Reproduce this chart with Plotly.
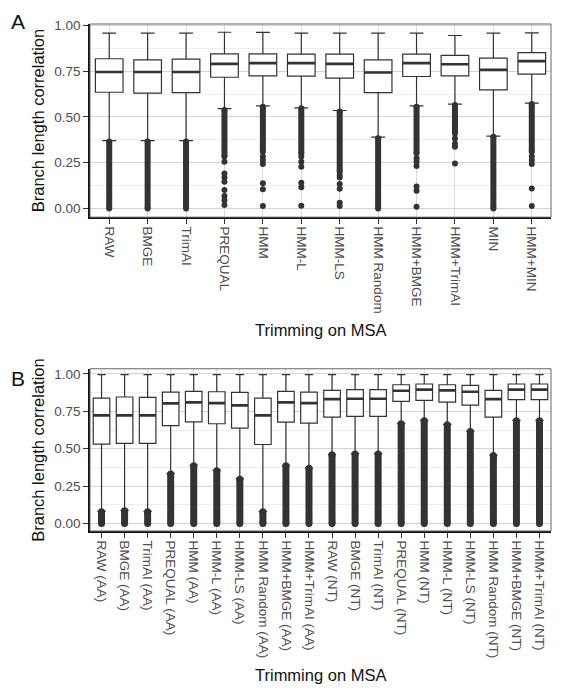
import plotly.graph_objects as go
from plotly.subplots import make_subplots

# panel A - trimming methods on the AA alignments
labels_a = ['RAW', 'BMGE', 'TrimAI', 'PREQUAL', 'HMM', 'HMM-L', 'HMM-LS', 'HMM Random',
            'HMM+BMGE', 'HMM+TrimAI', 'MIN', 'HMM+MIN']
q1_a = [0.635, 0.630, 0.633, 0.717, 0.724, 0.723, 0.712, 0.633, 0.721, 0.724, 0.648, 0.734]
med_a = [0.746, 0.746, 0.746, 0.790, 0.794, 0.794, 0.790, 0.743, 0.794, 0.788, 0.757, 0.805]
q3_a = [0.818, 0.812, 0.816, 0.845, 0.845, 0.843, 0.843, 0.812, 0.843, 0.836, 0.821, 0.852]
upper_a = [0.958, 0.958, 0.958, 0.963, 0.962, 0.958, 0.958, 0.958, 0.958, 0.945, 0.958, 0.960]
lower_a = [0.370, 0.370, 0.370, 0.545, 0.560, 0.550, 0.535, 0.390, 0.560, 0.570, 0.395, 0.575]
# dense runs of outliers (bottom, top)
dense_lo_a = [0.0, 0.0, 0.0, 0.283, 0.310, 0.301, 0.200, 0.0, 0.301, 0.410, 0.0, 0.310]
dense_hi_a = [0.365, 0.365, 0.365, 0.538, 0.556, 0.547, 0.529, 0.383, 0.556, 0.565, 0.392, 0.571]
# single outliers below the dense runs
out_cat_a = (['PREQUAL'] * 8 + ['HMM'] * 6 + ['HMM-L'] * 6 + ['HMM-LS'] * 6
             + ['HMM+BMGE'] * 6 + ['HMM+TrimAI'] * 4 + ['HMM+MIN'] * 5)
out_val_a = [0.255, 0.191, 0.169, 0.145, 0.100, 0.068, 0.045, 0.018,
             0.283, 0.265, 0.243, 0.137, 0.104, 0.013,
             0.283, 0.255, 0.228, 0.140, 0.115, 0.015,
             0.182, 0.169, 0.133, 0.108, 0.031, 0.013,
             0.274, 0.255, 0.232, 0.119, 0.097, 0.009,
             0.382, 0.355, 0.337, 0.246,
             0.285, 0.265, 0.243, 0.109, 0.013]

# panel B - AA vs NT
methods_b = ['RAW', 'BMGE', 'TrimAI', 'PREQUAL', 'HMM', 'HMM-L', 'HMM-LS', 'HMM Random',
             'HMM+BMGE', 'HMM+TrimAI']
labels_b = [m + ' (AA)' for m in methods_b] + [m + ' (NT)' for m in methods_b]
q1_b = [0.530, 0.535, 0.535, 0.655, 0.680, 0.667, 0.638, 0.528, 0.678, 0.671,
        0.711, 0.716, 0.716, 0.817, 0.823, 0.812, 0.792, 0.711, 0.828, 0.828]
med_b = [0.723, 0.723, 0.723, 0.803, 0.810, 0.805, 0.790, 0.723, 0.810, 0.805,
         0.832, 0.834, 0.834, 0.888, 0.895, 0.890, 0.881, 0.832, 0.895, 0.895]
q3_b = [0.839, 0.846, 0.844, 0.879, 0.884, 0.881, 0.877, 0.839, 0.884, 0.879,
        0.890, 0.895, 0.895, 0.928, 0.933, 0.928, 0.924, 0.890, 0.933, 0.933]
upper_b = [0.996, 0.996, 0.996, 0.996, 0.996, 0.996, 0.996, 0.996, 0.996, 0.996,
           0.996, 0.996, 0.996, 0.996, 0.996, 0.996, 0.996, 0.996, 0.996, 0.996]
lower_b = [0.080, 0.087, 0.080, 0.335, 0.390, 0.357, 0.300, 0.080, 0.389, 0.372,
           0.462, 0.468, 0.468, 0.670, 0.690, 0.663, 0.618, 0.457, 0.690, 0.690]
dense_lo_b = [0.0] * 20
dense_hi_b = [0.078, 0.085, 0.078, 0.331, 0.385, 0.353, 0.295, 0.078, 0.385, 0.369,
              0.459, 0.465, 0.465, 0.667, 0.687, 0.660, 0.615, 0.454, 0.687, 0.687]

FONT = 'Liberation Sans'
DARK = '#333333'
BOXW = 0.72


def add_panel(fig, row, labels, q1, med, q3, lower, upper, dlo, dhi, ocat=None, oval=None, thick=6):
    pos = list(range(len(labels)))
    # dense outlier runs as thick segments with round ends
    xs, ys = [], []
    for p, lo, hi in zip(pos, dlo, dhi):
        xs += [p, p, None]
        ys += [lo, hi, None]
    fig.add_trace(go.Scatter(x=xs, y=ys, mode='lines+markers',
                             line=dict(color=DARK, width=thick),
                             marker=dict(color=DARK, size=thick),
                             hoverinfo='skip', showlegend=False), row=row, col=1)
    if ocat:
        fig.add_trace(go.Scatter(x=[labels.index(c) for c in ocat], y=oval, mode='markers',
                                 marker=dict(color=DARK, size=6),
                                 showlegend=False), row=row, col=1)
    fig.add_trace(go.Box(x=pos, q1=q1, median=med, q3=q3, lowerfence=lower, upperfence=upper,
                         width=BOXW, fillcolor='white', line=dict(color=DARK, width=1.2),
                         boxpoints=False, showlegend=False), row=row, col=1)
    # thicker median bar like ggplot
    mx, my = [], []
    for p, m in zip(pos, med):
        mx += [p - BOXW / 2, p + BOXW / 2, None]
        my += [m, m, None]
    fig.add_trace(go.Scatter(x=mx, y=my, mode='lines', line=dict(color=DARK, width=2.6),
                             hoverinfo='skip', showlegend=False), row=row, col=1)
    fig.update_xaxes(tickvals=pos, ticktext=labels, range=[-0.5, len(labels) - 0.5],
                     tickangle=90, row=row, col=1)


fig = make_subplots(rows=2, cols=1)
add_panel(fig, 1, labels_a, q1_a, med_a, q3_a, lower_a, upper_a, dense_lo_a, dense_hi_a,
          out_cat_a, out_val_a)
add_panel(fig, 2, labels_b, q1_b, med_b, q3_b, lower_b, upper_b, dense_lo_b, dense_hi_b, thick=7)

# page body adds 8px around the figure, so the figure is 16px smaller than the window
fig.update_layout(
    width=553, height=683,
    margin=dict(l=82, r=10, t=16, b=160),
    plot_bgcolor='white', paper_bgcolor='white',
    font=dict(family=FONT, size=13.5, color='#4d4d4d'),
    showlegend=False,
    xaxis=dict(domain=[0, 1], anchor='y'),
    yaxis=dict(domain=[0.619, 1], range=[-0.048, 1.008]),
    xaxis2=dict(domain=[0, 1], anchor='y2'),
    yaxis2=dict(domain=[0, 0.32], range=[-0.051, 1.035]),
)
fig.update_xaxes(showgrid=True, gridcolor='#d9d9d9', zeroline=False,
                 showline=True, linecolor='#111111', linewidth=1.5,
                 ticks='outside', ticklen=5, tickcolor=DARK, tickfont=dict(size=13.5, color='#4d4d4d'))
fig.update_yaxes(tickvals=[0, 0.25, 0.5, 0.75, 1.0], ticktext=['0.00', '0.25', '0.50', '0.75', '1.00'],
                 showgrid=True, gridcolor='#d4d4d4', zeroline=False,
                 minor=dict(tickvals=[0.125, 0.375, 0.625, 0.875], showgrid=True, gridcolor='#eeeeee'),
                 showline=True, linecolor='#111111', linewidth=1.5,
                 ticks='outside', ticklen=5, tickcolor=DARK, tickfont=dict(size=13.5, color='#4d4d4d'))

# panel borders
for xr, yr in [('x domain', 'y domain'), ('x2 domain', 'y2 domain')]:
    fig.add_shape(type='rect', xref=xr, yref=yr, x0=0, x1=1, y0=0, y1=1,
                  line=dict(color='#666666', width=1), layer='above')

title_font = dict(family=FONT, size=16.5, color='#111111')
notes = [
    dict(text='A', x=-0.156, y=1.004, font=dict(family=FONT, size=21, color='#111111')),
    dict(text='B', x=-0.156, y=0.3, font=dict(family=FONT, size=21, color='#111111')),
    dict(text='Branch length correlation', x=-0.113, y=0.81, textangle=-90, font=title_font),
    dict(text='Branch length correlation', x=-0.113, y=0.16, textangle=-90, font=title_font),
    dict(text='Trimming on MSA', x=0.5, y=0.396, font=title_font),
    dict(text='Trimming on MSA', x=0.5, y=-0.284, font=title_font),
]
for n in notes:
    fig.add_annotation(xref='paper', yref='paper', showarrow=False,
                       xanchor='center', yanchor='middle', **n)

fig.write_html("out.html")
